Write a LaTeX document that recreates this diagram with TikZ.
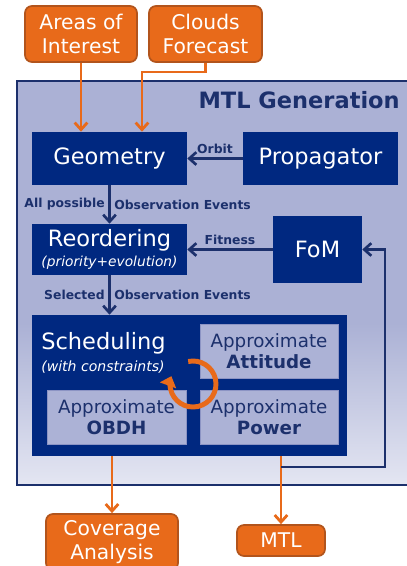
\documentclass[tikz,border=0pt]{standalone}
\usepackage{fontspec}
\setmainfont{DejaVu Sans}
\usetikzlibrary{arrows.meta}

\definecolor{navybox}{RGB}{0,40,128}
\definecolor{navytext}{RGB}{28,48,108}
\definecolor{orangebox}{RGB}{232,106,26}
\definecolor{orangeedge}{RGB}{178,84,28}
\definecolor{panelbg}{RGB}{171,177,213}
\definecolor{panellow}{RGB}{228,230,242}
\definecolor{approxbg}{RGB}{172,178,214}
\definecolor{approxedge}{RGB}{140,148,196}

% lavender panel, fading out towards its bottom edge
\pgfdeclareverticalshading{panelfade}{100bp}{color(0bp)=(panellow); color(25bp)=(panellow); color(45bp)=(panelbg); color(100bp)=(panelbg)}

\begin{document}
\begin{tikzpicture}[x=0.025cm,y=-0.025cm,
	  >={Straight Barb[length=5pt,width=9pt]},
	  iobox/.style={draw=orangeedge,line width=1.2pt,fill=orangebox,rounded corners=5pt,
	    text=white,align=center,inner sep=0pt,font=\fontsize{14.4}{17}\selectfont},
	  block/.style={fill=navybox,text=white,align=center,inner sep=0pt,
	    font=\fontsize{16}{18}\selectfont,minimum width=3.875cm},
	  approx/.style={draw=approxedge,line width=0.5pt,fill=approxbg,text=navytext,align=center,
	    inner sep=0pt,minimum width=3.45cm,minimum height=1.35cm,font=\fontsize{13}{14.5}\selectfont},
	  tag/.style={text=navytext,inner sep=2.5pt,font=\fontsize{8.8}{10}\selectfont\bfseries},
	  orangeline/.style={draw=orangebox,line width=2pt,->},
	  navyline/.style={draw=navytext,line width=1.9pt,->}]
	  \useasboundingbox (0,0) rectangle (407,566);
	  % panel and title
	  \shade[shading=panelfade,draw=navytext,line width=0.8pt] (17,81) rectangle (430,485);
	  \node[anchor=east,inner sep=0pt,text=navytext,font=\fontsize{16}{18}\selectfont\bfseries] (title) at (400,100) {MTL Generation};
	  % inputs
	  \node[iobox,minimum width=2.8cm,minimum height=1.4cm] (areas) at (81,34) {Areas of\\Interest};
	  \node[iobox,minimum width=2.825cm,minimum height=1.4cm] (clouds) at (205.5,34) {Clouds\\Forecast};
	  % processing blocks
	  \node[block,minimum height=1.325cm] (geo) at (109.5,158.5) {Geometry};
	  \node[block,minimum height=1.325cm] (prop) at (320.5,158.5) {Propagator};
	  \node[block,minimum height=1.275cm] (reord) at (109.5,249.5) {Reordering\\[-4pt]{\fontsize{9.8}{11}\selectfont\itshape (priority+evolution)}};
	  \node[block,minimum width=2.225cm,minimum height=1.675cm] (fom) at (317.5,249.5) {FoM};
	  \node[block,minimum width=7.875cm,minimum height=3.525cm] (sched) at (189.5,385.5) {};
	  \node[anchor=west,text=white,align=left,inner sep=0pt,font=\fontsize{16}{18}\selectfont] (schedtxt) at (41,353) {Scheduling\\[-2pt]{\fontsize{10}{11}\selectfont\itshape (with constraints)}};
	  \node[approx] (att) at (269,351) {Approximate\\\textbf{Attitude}};
	  \node[approx,minimum width=3.475cm] (obdh) at (116.5,417) {Approximate\\\textbf{OBDH}};
	  \node[approx] (pow) at (269,417) {Approximate\\\textbf{Power}};
	  \draw[orangebox,line width=3.5pt,-{Triangle[length=7pt,width=12pt]}] (188.2,361.5) arc[start angle=-102,end angle=200,radius=23];
	  % outputs
	  \node[iobox,minimum width=3.3cm,minimum height=1.4cm] (cov) at (112,542) {Coverage\\Analysis};
	  \node[iobox,minimum width=2.2cm,minimum height=0.775cm] (mtl) at (281,540.5) {MTL};
	  % connections
	  \coordinate (cbend) at (142,72);
	  \draw[orangeline] (areas.south) -- (areas.south |- geo.north);
	  \draw[orangeline] (clouds.south) |- (cbend) -- (cbend |- geo.north);
	  \draw[navyline] (prop.west) -- node[tag,above] (orbit) {Orbit} (geo.east);
	  \draw[navyline] (geo.south) -- node[tag,left] (allp) {All possible} node[tag,right] (obs1) {Observation Events} (reord.north);
	  \draw[navyline] (fom.west) -- node[tag,above] (fit) {Fitness} (fom.west -| reord.east);
	  \draw[navyline] (reord.south) -- node[tag,left] (sel) {Selected} node[tag,right] (obs2) {Observation Events} (reord.south |- sched.north);
	  \draw[orangeline] (cov.north |- sched.south) -- (cov.north);
	  \draw[orangeline] (mtl.north |- sched.south) -- (mtl.north);
	  \coordinate (split) at (281,467);
	  \coordinate (loop) at (385,467);
	  \draw[navyline] (split) -- (loop) |- (fom.east);
	\end{tikzpicture}
\end{document}
